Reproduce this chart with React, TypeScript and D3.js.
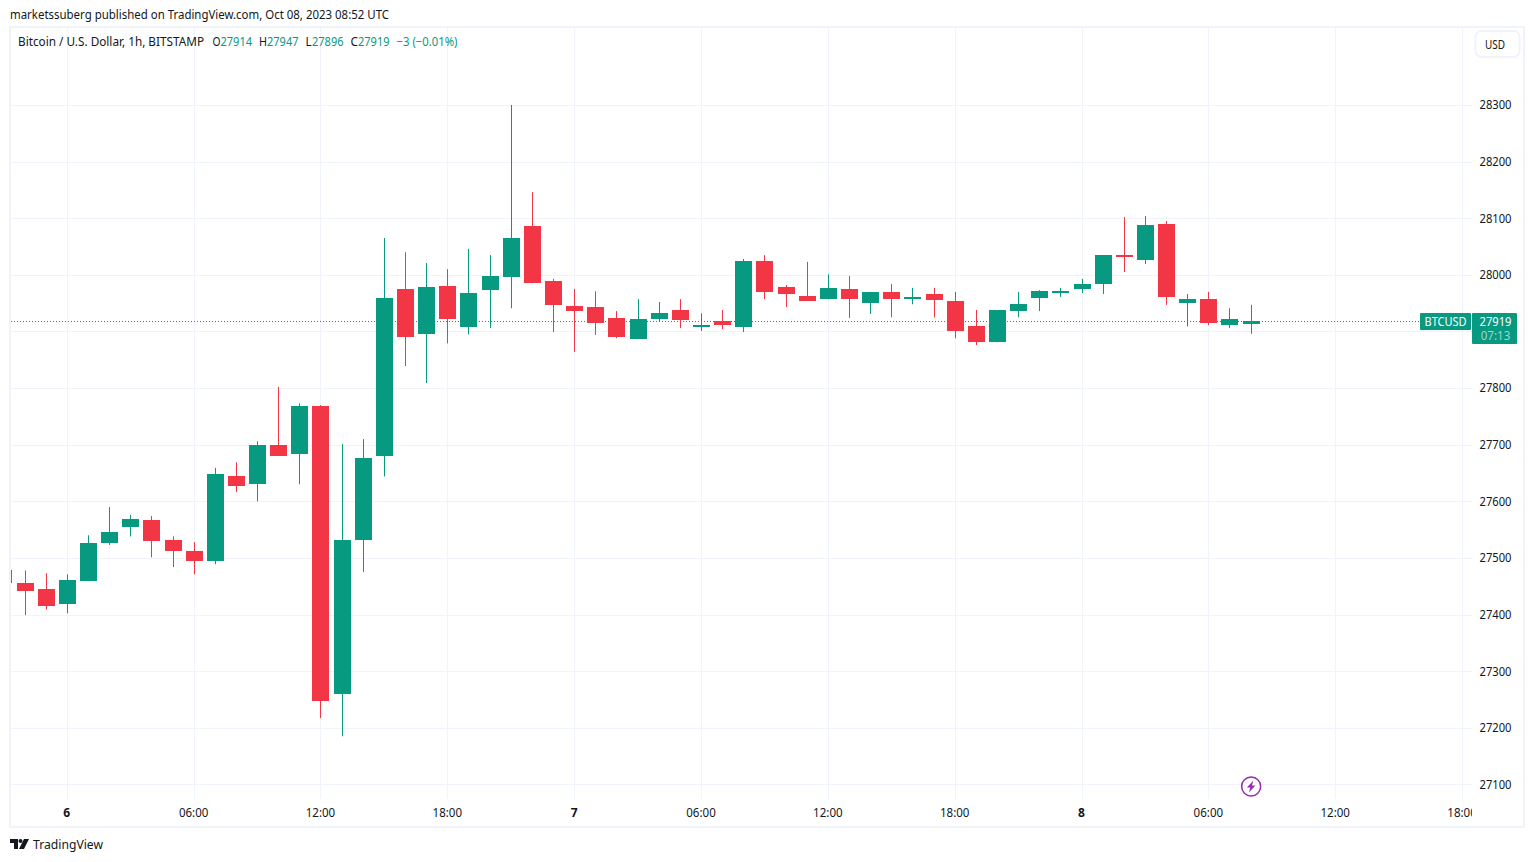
import React, { useEffect, useRef } from "react";
import * as d3 from "d3";

// hours counted from Oct 6 00:00 UTC
const startHour = -3;
const opens = [27478, 27455, 27445, 27418, 27459, 27526, 27553, 27567, 27531, 27512, 27494, 27644, 27630, 27699, 27683, 27768, 27259, 27531, 27680, 27975, 27895, 27980, 27908, 27973, 27996, 28086, 27989, 27945, 27943, 27924, 27887, 27922, 27938, 27908, 27918, 27908, 28024, 27978, 27963, 27957, 27975, 27950, 27970, 27957, 27966, 27954, 27909, 27881, 27936, 27959, 27970, 27975, 27984, 28035, 28026, 28090, 27950, 27957, 27911, 27914];
const highs = [27478, 27478, 27473, 27471, 27540, 27590, 27576, 27574, 27538, 27528, 27659, 27669, 27706, 27802, 27773, 27770, 27701, 27710, 28065, 28040, 28021, 28010, 28046, 28035, 28300, 28146, 27993, 27975, 27971, 27936, 27957, 27952, 27957, 27932, 27938, 28028, 28035, 27982, 28023, 28001, 27998, 27970, 27984, 27977, 27977, 27970, 27938, 27938, 27970, 27973, 27977, 27993, 28035, 28102, 28104, 28095, 27966, 27970, 27941, 27947];
const lows = [27455, 27399, 27409, 27402, 27459, 27523, 27538, 27501, 27484, 27471, 27489, 27616, 27600, 27680, 27630, 27217, 27185, 27475, 27644, 27839, 27809, 27879, 27895, 27906, 27941, 27985, 27899, 27864, 27894, 27888, 27887, 27917, 27906, 27901, 27904, 27899, 27957, 27943, 27954, 27957, 27924, 27931, 27925, 27948, 27925, 27888, 27876, 27881, 27925, 27936, 27961, 27968, 27966, 28005, 28019, 27947, 27909, 27911, 27906, 27896];
const closes = [27455, 27441, 27415, 27461, 27526, 27545, 27568, 27530, 27512, 27494, 27648, 27627, 27699, 27680, 27768, 27247, 27531, 27676, 27959, 27890, 27978, 27922, 27968, 27998, 28065, 27985, 27947, 27936, 27915, 27890, 27922, 27932, 27920, 27911, 27911, 28024, 27970, 27966, 27955, 27977, 27957, 27970, 27957, 27961, 27955, 27901, 27881, 27938, 27948, 27971, 27971, 27984, 28035, 28031, 28088, 27961, 27957, 27915, 27922, 27919];

const priceTicks = [27100, 27200, 27300, 27400, 27500, 27600, 27700, 27800, 27900, 28000, 28100, 28200, 28300];
const timeTicks = [0, 6, 12, 18, 24, 30, 36, 42, 48, 54, 60, 66];
const timeLabels = ["6", "06:00", "12:00", "18:00", "7", "06:00", "12:00", "18:00", "8", "06:00", "12:00", "18:00"];
const boldTicks = ["6", "7", "8"];

const lastPrice = 27919;
const GREEN = "#089981";
const RED = "#f23645";
const GRID = "#f0f3fa";
const TEXT = "#131722";
const FONT = "'Noto Sans', sans-serif";

export default function App() {
  const ref = useRef<SVGSVGElement>(null);

  useEffect(() => {
    const svg = d3.select(ref.current);
    svg.selectAll("*").remove();
    svg.style("font-family", FONT);

    const x = d3.scaleLinear().domain([0, 6]).range([67.3, 194.14]);
    const y = d3.scaleLinear().domain([27100, 28300]).range([784.4, 105]);
    const px = (h: number) => Math.floor(x(h));

    const defs = svg.append("defs");
    defs.append("clipPath").attr("id", "plot").append("rect").attr("x", 11).attr("y", 28).attr("width", 1461).attr("height", 771);
    defs.append("clipPath").attr("id", "timeaxis").append("rect").attr("x", 11).attr("y", 799).attr("width", 1461).attr("height", 27);

    // squeezes a text to the width it has in the picture
    const label = (sel: any, width: number) =>
      sel.attr("font-size", 12).attr("textLength", width).attr("lengthAdjust", "spacingAndGlyphs");

    // frame
    svg.append("rect").attr("x", 10).attr("y", 27).attr("width", 1514).attr("height", 800)
      .attr("fill", "#fff").attr("stroke", GRID).attr("stroke-width", 2);

    // grid
    const grid = svg.append("g").attr("clip-path", "url(#plot)").attr("stroke", GRID).attr("stroke-width", 1);
    grid.selectAll(".h").data(priceTicks).join("line").attr("class", "h")
      .attr("x1", 11).attr("x2", 1472)
      .attr("y1", (d) => Math.round(y(d)) + 0.5).attr("y2", (d) => Math.round(y(d)) + 0.5);
    grid.selectAll(".v").data(timeTicks).join("line").attr("class", "v")
      .attr("y1", 28).attr("y2", 799)
      .attr("x1", (d) => px(d) + 0.5).attr("x2", (d) => px(d) + 0.5);

    // last price line
    svg.append("line").attr("x1", 11).attr("x2", 1420)
      .attr("y1", 321.5).attr("y2", 321.5)
      .attr("stroke", GREEN).attr("stroke-dasharray", "1 2");

    // candles
    const candles = opens.map((open, i) => ({ hour: startHour + i, open, high: highs[i], low: lows[i], close: closes[i] }));
    const plot = svg.append("g").attr("clip-path", "url(#plot)");
    const color = (d: any) => (d.close >= d.open ? GREEN : RED);
    plot.selectAll(".wick").data(candles).join("line").attr("class", "wick")
      .attr("x1", (d) => px(d.hour) + 0.5).attr("x2", (d) => px(d.hour) + 0.5)
      .attr("y1", (d) => y(d.high)).attr("y2", (d) => y(d.low))
      .attr("stroke", color);
    plot.selectAll(".body").data(candles).join("rect").attr("class", "body")
      .attr("x", (d) => px(d.hour) - 8).attr("width", 17)
      .attr("y", (d) => Math.round(y(Math.max(d.open, d.close))))
      .attr("height", (d) => Math.max(2, Math.round(Math.abs(y(d.open) - y(d.close)))))
      .attr("fill", color);

    // axes
    const yAxis = d3.axisRight(y).tickValues(priceTicks).tickSize(0).tickPadding(0).tickFormat((d) => String(d));
    const yg = svg.append("g").attr("transform", "translate(1479.5,0)").call(yAxis as any);
    yg.select(".domain").remove();
    label(yg.selectAll("text"), 32).attr("font-family", FONT).attr("fill", TEXT);

    const xAxis = d3.axisBottom(x).tickValues(timeTicks).tickSize(0).tickPadding(0)
      .tickFormat((_, i) => timeLabels[i]);
    const xg = svg.append("g").attr("clip-path", "url(#timeaxis)").append("g")
      .attr("transform", "translate(-1,808)").call(xAxis as any);
    xg.select(".domain").remove();
    xg.selectAll("text").attr("font-size", 12).attr("font-family", FONT).attr("fill", TEXT)
      .attr("font-weight", (_, i) => (boldTicks.includes(timeLabels[i]) ? 700 : 400))
      .filter((_, i) => !boldTicks.includes(timeLabels[i]))
      .attr("textLength", 29.5).attr("lengthAdjust", "spacingAndGlyphs");

    // price tags
    svg.append("rect").attr("x", 1420).attr("y", 313).attr("width", 51).attr("height", 17).attr("rx", 1).attr("fill", GREEN);
    svg.append("rect").attr("x", 1472).attr("y", 313).attr("width", 45).attr("height", 31).attr("rx", 1).attr("fill", GREEN);
    label(svg.append("text").attr("x", 1445.5).attr("y", 326).attr("text-anchor", "middle").attr("fill", "#fff").text("BTCUSD"), 42);
    label(svg.append("text").attr("x", 1495.5).attr("y", 326).attr("text-anchor", "middle").attr("fill", "#fff").text(String(lastPrice)), 32);
    label(svg.append("text").attr("x", 1495.5).attr("y", 340).attr("text-anchor", "middle").attr("fill", "#fff").attr("fill-opacity", 0.6).text("07:13"), 29.5);

    // header + legend
    label(svg.append("text").attr("x", 10).attr("y", 19).attr("fill", TEXT)
      .text("marketssuberg published on TradingView.com, Oct 08, 2023 08:52 UTC"), 379);
    label(svg.append("text").attr("x", 18).attr("y", 46).attr("fill", TEXT)
      .text("Bitcoin / U.S. Dollar, 1h, BITSTAMP"), 186);
    const legend: [string, number, string, number][] = [
      ["O", 212.5, TEXT, 8], ["27914", 220.5, GREEN, 31.5],
      ["H", 259, TEXT, 8], ["27947", 267, GREEN, 31.5],
      ["L", 305.5, TEXT, 6], ["27896", 312, GREEN, 31.5],
      ["C", 350.5, TEXT, 7.5], ["27919", 358, GREEN, 31.5],
      ["\u22123 (\u22120.01%)", 396.5, GREEN, 61],
    ];
    svg.append("g").selectAll("text").data(legend).join("text")
      .attr("x", (d) => d[1]).attr("y", 46).attr("font-size", 12)
      .attr("textLength", (d) => d[3]).attr("lengthAdjust", "spacingAndGlyphs")
      .attr("fill", (d) => d[2]).text((d) => d[0]);

    // currency button
    svg.append("rect").attr("x", 1475.5).attr("y", 31).attr("width", 44).attr("height", 26).attr("rx", 6)
      .attr("fill", "#fff").attr("stroke", GRID).attr("stroke-width", 2);
    label(svg.append("text").attr("x", 1495).attr("y", 49).attr("text-anchor", "middle").attr("fill", TEXT).text("USD"), 20);

    // lightning marker
    const marker = svg.append("g").attr("transform", `translate(${x(56)},786.5)`);
    marker.append("circle").attr("r", 9.5).attr("fill", "#fff").attr("stroke", "#9c27b0").attr("stroke-width", 1.5);
    marker.append("path").attr("d", "M2.2,-6 L-4.2,1 L-0.8,1 L-2.2,6 L4.2,-1 L0.8,-1 Z").attr("fill", "#9c27b0");

    // logo
    const logo = svg.append("g").attr("transform", "translate(10,839)").attr("fill", TEXT);
    logo.append("path").attr("d", "M0,0 H8 V10 H4 V4 H0 Z");
    logo.append("circle").attr("cx", 10.5).attr("cy", 2).attr("r", 2);
    logo.append("path").attr("d", "M14,0 H19 L14,10 H9 Z");
    svg.append("text").attr("x", 33).attr("y", 849).attr("font-size", 13).attr("fill", TEXT)
      .attr("textLength", 70).attr("lengthAdjust", "spacingAndGlyphs").text("TradingView");
  }, []);

  return (
    <svg
      ref={ref}
      width={1534}
      height={862}
      style={{ position: "absolute", left: 0, top: 0, background: "#fff" }}
    />
  );
}
